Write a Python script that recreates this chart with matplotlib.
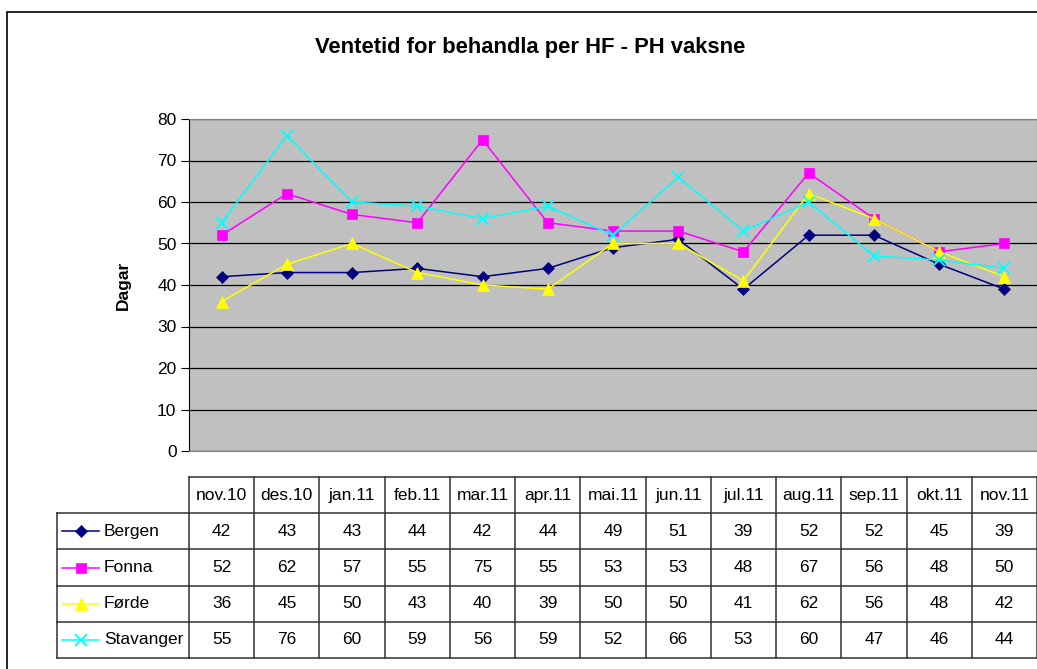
import matplotlib
matplotlib.use("Agg")
import matplotlib.pyplot as plt
from matplotlib.patches import Rectangle
from matplotlib.lines import Line2D

plt.rcParams['font.family'] = ['Liberation Sans', 'DejaVu Sans']

# data
maaneder = ["nov.10", "des.10", "jan.11", "feb.11", "mar.11", "apr.11", "mai.11",
            "jun.11", "jul.11", "aug.11", "sep.11", "okt.11", "nov.11"]
bergen = [42, 43, 43, 44, 42, 44, 49, 51, 39, 52, 52, 45, 39]
fonna = [52, 62, 57, 55, 75, 55, 53, 53, 48, 67, 56, 48, 50]
forde = [36, 45, 50, 43, 40, 39, 50, 50, 41, 62, 56, 48, 42]
stavanger = [55, 76, 60, 59, 56, 59, 52, 66, 53, 60, 47, 46, 44]

serier = [
    ("Bergen", bergen, "#000080", "D", 6.5),
    ("Fonna", fonna, "#FF00FF", "s", 7.5),
    ("Førde", forde, "#FFFF00", "^", 8),
    ("Stavanger", stavanger, "#00FFFF", "x", 8),
]

W, H = 1037, 669
fig = plt.figure(figsize=(W / 100, H / 100), dpi=100)

# ramme rundt diagrammet
fig.patches.append(Rectangle((7 / W, -0.05), 1.2, 1 - 12 / H + 0.05, transform=fig.transFigure,
                             fill=False, edgecolor="black", linewidth=1.2))

venstre, topp, hoyre, botn = 189, 119, 1037, 451
ax = fig.add_axes([venstre / W, 1 - botn / H, (hoyre - venstre) / W, (botn - topp) / H])
ax.set_facecolor("#C0C0C0")

x = list(range(len(maaneder)))
for navn, verdiar, farge, mk, ms in serier:
    ax.plot(x, verdiar, color=farge, marker=mk, markersize=ms, linewidth=1.1,
            markeredgewidth=1.3 if mk == "x" else 0.5, markeredgecolor=farge, clip_on=False)

ax.set_xlim(-0.5, len(maaneder) - 0.5)
ax.set_ylim(0, 80)
ax.set_yticks(range(0, 81, 10))
ax.yaxis.grid(True, color="black", linewidth=0.9)
ax.set_axisbelow(True)
ax.set_xticks([])
ax.tick_params(axis="y", labelsize=12.5, length=6, width=0.8, pad=3)
for s in ["top", "right", "bottom"]:
    ax.spines[s].set_color("#808080")
ax.spines["left"].set_color("black")
ax.set_ylabel("Dagar", fontsize=12.5, fontweight="bold", labelpad=19)

fig.text(530 / W, 1 - 48 / H, "Ventetid for behandla per HF - PH vaksne", ha="center", va="center",
         fontsize=15.8, fontweight="bold")

# datatabell under aksen
def py(p):
    return (botn - p) / (botn - topp)

radtopp = 477
radh = 36.2
lab_x0 = (57 - venstre) / (hoyre - venstre)
tr = ax.get_xaxis_transform()
lw = 1.1
lc = "#303030"
ant = len(maaneder)

y_hdr_top = py(radtopp)
y_rows = [py(radtopp + radh * (i + 1)) for i in range(len(serier) + 1)]

# horisontale linjer
ax.plot([-0.5, ant - 0.5], [y_hdr_top, y_hdr_top], transform=tr, color=lc, lw=lw, clip_on=False)
for yy in y_rows:
    ax.plot([-0.5, ant - 0.5], [yy, yy], transform=tr, color=lc, lw=lw, clip_on=False)
    ax.plot([lab_x0, 0], [yy, yy], transform=ax.transAxes, color=lc, lw=lw, clip_on=False)
# vertikale linjer
for k in range(ant + 1):
    ax.plot([k - 0.5, k - 0.5], [y_hdr_top, y_rows[-1]], transform=tr, color=lc, lw=lw, clip_on=False)
ax.plot([lab_x0, lab_x0], [y_rows[0], y_rows[-1]], transform=ax.transAxes, color=lc, lw=lw, clip_on=False)

# overskrift
for k, m in enumerate(maaneder):
    ax.text(k, (y_hdr_top + y_rows[0]) / 2, m, transform=tr, ha="center", va="center", fontsize=12.5)

# radene
for i, (navn, verdiar, farge, mk, ms) in enumerate(serier):
    yc = (y_rows[i] + y_rows[i + 1]) / 2
    for k, v in enumerate(verdiar):
        ax.text(k, yc, str(v), transform=tr, ha="center", va="center", fontsize=12.5)
    lx0 = (62 - venstre) / (hoyre - venstre)
    lx1 = (99 - venstre) / (hoyre - venstre)
    ax.add_line(Line2D([lx0, lx1], [yc, yc], transform=ax.transAxes, color=farge, lw=1.1, clip_on=False))
    ax.add_line(Line2D([(lx0 + lx1) / 2], [yc], transform=ax.transAxes, color=farge, marker=mk,
                       markersize=ms, markeredgewidth=1.3 if mk == "x" else 0.5, clip_on=False))
    ax.text((104 - venstre) / (hoyre - venstre), yc, navn, transform=ax.transAxes,
            ha="left", va="center", fontsize=12.5)

fig.savefig("out.png", dpi=100)
